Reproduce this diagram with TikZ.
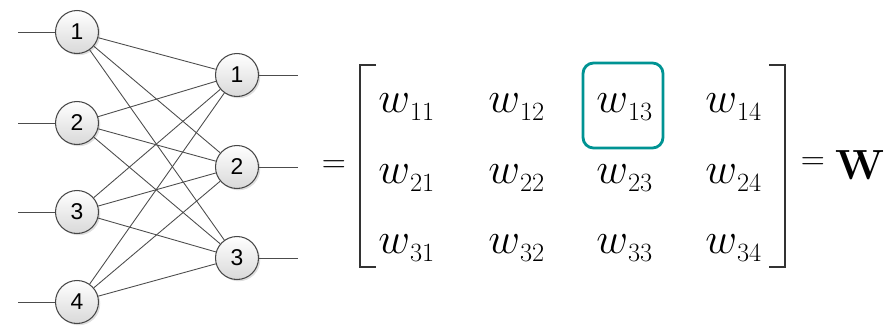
\documentclass[tikz,border=0pt]{standalone}
\usepackage{fontspec}
\newfontfamily\nodefont{Liberation Sans}
\usepackage{tikz}
\usetikzlibrary{shadows}

\newcommand{\wsub}[1]{$w$\raisebox{-0.42ex}{\fontsize{15}{15}\selectfont #1}}

\begin{document}
\begin{tikzpicture}[
  x=0.02cm, y=-0.02cm,
  neuron/.style={circle, draw=gray!55!black, line width=0.6pt,
                 top color=white, bottom color=gray!30,
                 minimum size=0.86cm, inner sep=0pt,
                 font=\nodefont\fontsize{13}{13}\selectfont,
                 drop shadow={opacity=0.25, shadow xshift=1pt, shadow yshift=-1pt}},
  link/.style={gray!60!black, line width=0.5pt},
  entry/.style={anchor=base west, inner sep=0pt,
                font=\rmfamily\fontsize{27}{27}\selectfont},
  sym/.style={inner sep=0pt, font=\rmfamily\fontsize{19}{19}\selectfont},
  bracket/.style={line width=1.1pt, black!80},
  hilite/.style={draw=teal!85!cyan, line width=1.6pt, rounded corners=6pt},
  ]
  \useasboundingbox (0,0) rectangle (895,325);

  %% Input layer and output layer
  \node[neuron] (in1)  at (77,  32) {1};
  \node[neuron] (in2)  at (77, 123) {2};
  \node[neuron] (in3)  at (77, 212) {3};
  \node[neuron] (in4)  at (77, 302) {4};
  \node[neuron] (out1) at (237, 75) {1};
  \node[neuron] (out2) at (237,167) {2};
  \node[neuron] (out3) at (237,258) {3};

  %% Free ends of the input and output lines
  \coordinate (a1) at (18, 32);
  \coordinate (a2) at (18,123);
  \coordinate (a3) at (18,212);
  \coordinate (a4) at (18,302);
  \coordinate (b1) at (298, 75);
  \coordinate (b2) at (298,167);
  \coordinate (b3) at (298,258);

  \draw[link] (a1) -- (in1);
  \draw[link] (a2) -- (in2);
  \draw[link] (a3) -- (in3);
  \draw[link] (a4) -- (in4);
  \draw[link] (out1) -- (b1);
  \draw[link] (out2) -- (b2);
  \draw[link] (out3) -- (b3);

  %% Full connections, input -> output
  \draw[link] (in1) -- (out1);
  \draw[link] (in1) -- (out2);
  \draw[link] (in1) -- (out3);
  \draw[link] (in2) -- (out1);
  \draw[link] (in2) -- (out2);
  \draw[link] (in2) -- (out3);
  \draw[link] (in3) -- (out1);
  \draw[link] (in3) -- (out2);
  \draw[link] (in3) -- (out3);
  \draw[link] (in4) -- (out1);
  \draw[link] (in4) -- (out2);
  \draw[link] (in4) -- (out3);

  %% Weight matrix
  \node[sym] (eqL) at (334,167) {=};
  \node[entry] (w11) at (378,112) {\wsub{11}};
  \node[entry] (w12) at (488,112) {\wsub{12}};
  \node[entry] (w13) at (596,112) {\wsub{13}};
  \node[entry] (w14) at (705,112) {\wsub{14}};
  \node[entry] (w21) at (378,183) {\wsub{21}};
  \node[entry] (w22) at (488,183) {\wsub{22}};
  \node[entry] (w23) at (596,183) {\wsub{23}};
  \node[entry] (w24) at (705,183) {\wsub{24}};
  \node[entry] (w31) at (378,253) {\wsub{31}};
  \node[entry] (w32) at (488,253) {\wsub{32}};
  \node[entry] (w33) at (596,253) {\wsub{33}};
  \node[entry] (w34) at (705,253) {\wsub{34}};
  \node[sym] (eqR) at (813,164) {=};
  \node[sym, font=\rmfamily\fontsize{24}{24}\selectfont] (mW) at (860,165) {\textbf{W}};

  % brackets
  \draw[bracket] (376,65) -- (360,65) -- (360,267) -- (376,267);
  \draw[bracket] (769,65) -- (785,65) -- (785,267) -- (769,267);

  % highlighted weight
  \draw[hilite] (583,63) rectangle (663,148);
\end{tikzpicture}
\end{document}
